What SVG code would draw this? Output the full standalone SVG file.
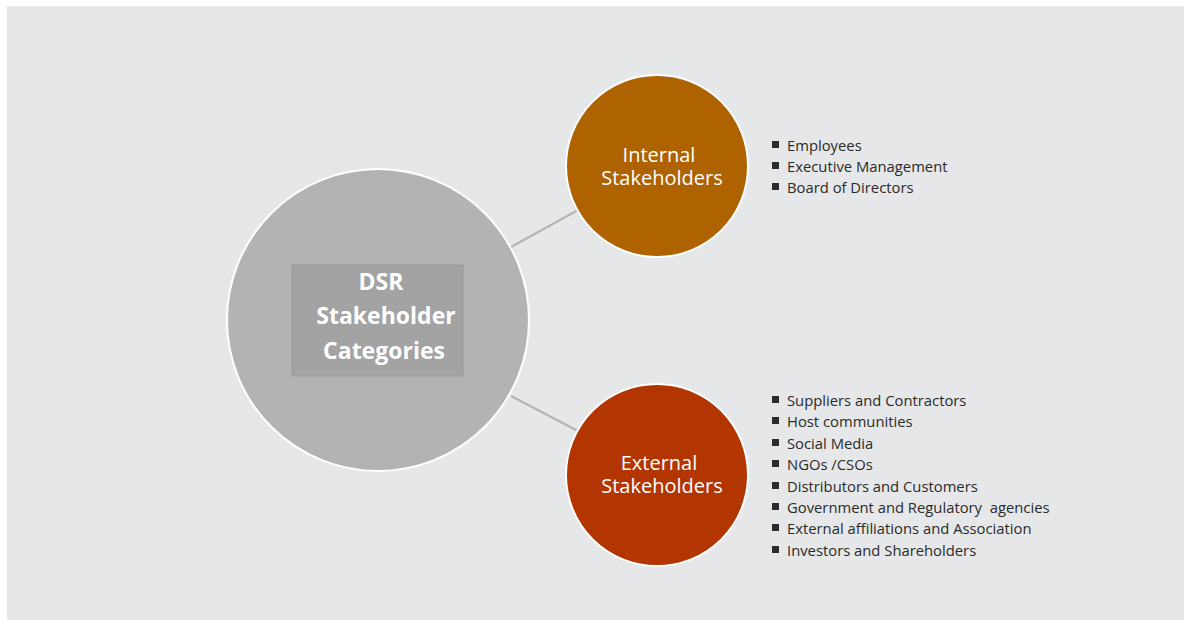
<svg xmlns="http://www.w3.org/2000/svg" width="1184" height="626" viewBox="0 0 1184 626">
<style>
.lbl{font-family:"Open Sans","Liberation Sans",sans-serif;fill:#ffffff;text-anchor:middle}
.item{font-family:"Open Sans","Liberation Sans",sans-serif;font-size:14.8px;fill:#2b2b2b}
.bul{fill:#2b2b2b}
.conn{stroke:#b4b4b4;stroke-width:2;fill:none}
</style>
<rect x="0" y="0" width="1184" height="626" fill="#ffffff"/>
<rect x="7" y="6" width="1177" height="614" fill="#e6e7e8"/>
<g id="connectors">
<line class="conn" x1="511" y1="247" x2="578" y2="210"/>
<line class="conn" x1="511" y1="396" x2="578" y2="431"/>
</g>
<g id="center">
<circle cx="378" cy="320" r="151" fill="#b3b3b3" stroke="#ffffff" stroke-width="2"/>
<rect x="292" y="265" width="171" height="111" fill="#a3a3a3" stroke="#9a9a9a" stroke-width="1"/>
<text class="lbl" font-weight="bold" font-size="23"><tspan x="381" y="290">DSR</tspan><tspan x="386" y="324">Stakeholder</tspan><tspan x="384" y="359">Categories</tspan></text>
</g>
<g id="internal">
<line x1="657" y1="74" x2="657" y2="78" stroke="#b4b4b4" stroke-width="3"/>
<circle cx="657" cy="166" r="91" fill="#ae6200" stroke="#ffffff" stroke-width="2"/>
<text class="lbl" font-size="20"><tspan x="659" y="162">Internal</tspan><tspan x="662" y="185">Stakeholders</tspan></text>
</g>
<g id="external">
<circle cx="657" cy="475" r="91" fill="#b33500" stroke="#ffffff" stroke-width="2"/>
<text class="lbl" font-size="20"><tspan x="659" y="470">External</tspan><tspan x="662" y="493">Stakeholders</tspan></text>
</g>
<g id="internal-list">
<rect class="bul" x="772" y="141" width="7" height="7"/><text class="item" x="787" y="151">Employees</text>
<rect class="bul" x="772" y="162" width="7" height="7"/><text class="item" x="787" y="172">Executive Management</text>
<rect class="bul" x="772" y="183" width="7" height="7"/><text class="item" x="787" y="193">Board of Directors</text>
</g>
<g id="external-list">
<rect class="bul" x="772" y="396" width="7" height="7"/><text class="item" x="787" y="406">Suppliers and Contractors</text>
<rect class="bul" x="772" y="417" width="7" height="7"/><text class="item" x="787" y="427">Host communities</text>
<rect class="bul" x="772" y="439" width="7" height="7"/><text class="item" x="787" y="449">Social Media</text>
<rect class="bul" x="772" y="460" width="7" height="7"/><text class="item" x="787" y="470">NGOs /CSOs</text>
<rect class="bul" x="772" y="482" width="7" height="7"/><text class="item" x="787" y="492">Distributors and Customers</text>
<rect class="bul" x="772" y="503" width="7" height="7"/><text class="item" x="787" y="513" xml:space="preserve">Government and Regulatory  agencies</text>
<rect class="bul" x="772" y="524" width="7" height="7"/><text class="item" x="787" y="534">External affiliations and Association</text>
<rect class="bul" x="772" y="546" width="7" height="7"/><text class="item" x="787" y="556">Investors and Shareholders</text>
</g>
</svg>
